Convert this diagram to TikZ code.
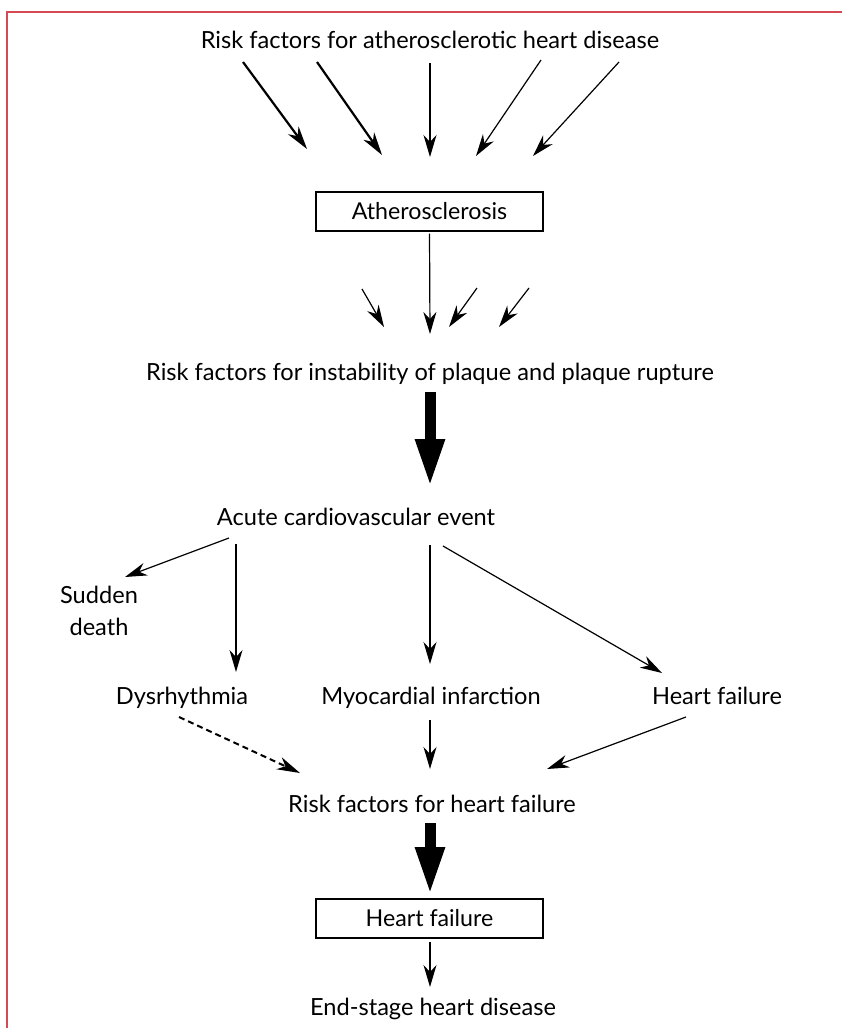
\documentclass[tikz,border=0pt]{standalone}
\usepackage{fontspec}
\setmainfont{Lato}
\usetikzlibrary{arrows.meta}
\definecolor{frame}{RGB}{214,72,84}
\tikzset{
  lbl/.style={font=\fontsize{23.6}{28}\selectfont, inner sep=0pt, anchor=base},
  boxed/.style={draw, line width=1.3pt, minimum width=227pt, minimum height=39pt, inner sep=0pt, font=\fontsize{23.2}{28}\selectfont},
  thin/.style={line width=1.2pt, -{Stealth[length=22pt,width=13pt,inset=7pt]}},
  thick/.style={line width=2.2pt, -{Stealth[length=23pt,width=13pt,inset=7pt]}},
  fat/.style={line width=11pt, -{Triangle[length=48pt,width=27pt]}},
}
\begin{document}
\begin{tikzpicture}[x=1pt,y=-1pt]
\useasboundingbox (0,0) rectangle (842,1028);
\draw[frame, line width=2pt] (7,1028) -- (7,12) -- (842,12);

% texts
\node[lbl] (t1) at (430,48) {Risk factors for atherosclerotic heart disease};
\node[boxed] (ath) at (429.5,211.5) {Atherosclerosis};
\node[lbl] (t2) at (430,380) {Risk factors for instability of plaque and plaque rupture};
\node[lbl] (acute) at (356,525) {Acute cardiovascular event};
\node[font=\fontsize{23.6}{32}\selectfont, inner sep=0pt, align=center] (sd) at (99,611) {Sudden\\death};
\node[lbl] (dys) at (182,704) {Dysrhythmia};
\node[lbl] (mi) at (431,704) {Myocardial infarction};
\node[lbl] (hf) at (717,704) {Heart failure};
\node[lbl] (rfhf) at (432,812) {Risk factors for heart failure};
\node[boxed] (hfb) at (429.5,918.5) {Heart failure};
\node[lbl] (esd) at (433,1015) {End-stage heart disease};

% top arrows
\coordinate (a1s) at (243,62); \coordinate (a1e) at (307,149);
\coordinate (a2s) at (317,62); \coordinate (a2e) at (382,155);
\coordinate (a3s) at (430,63); \coordinate (a3e) at (430,157);
\coordinate (a4s) at (541,60); \coordinate (a4e) at (476,156);
\coordinate (a5s) at (619,62); \coordinate (a5e) at (533,156);
\draw[thick] (a1s) -- (a1e);
\draw[thick] (a2s) -- (a2e);
\draw[thin] (a3s) -- (a3e);
\draw[thin] (a4s) -- (a4e);
\draw[thin] (a5s) -- (a5e);

% second group
\coordinate (b0e) at (430,334);
\draw[thin] (ath.south) ++(0,2) coordinate (b0s) -- (b0e);
\coordinate (b1s) at (362,289); \coordinate (b1e) at (384,327);
\coordinate (b2s) at (477,288); \coordinate (b2e) at (449,327);
\coordinate (b3s) at (529,288); \coordinate (b3e) at (499,327);
\draw[thin] (b1s) -- (b1e);
\draw[thin] (b2s) -- (b2e);
\draw[thin] (b3s) -- (b3e);

% fat arrow 1
\coordinate (f1s) at (430,392); \coordinate (f1e) at (430,487);
\draw[fat] (f1s) -- (f1e);

% from acute event
\coordinate (c1s) at (229,538); \coordinate (c1e) at (125,577);
\coordinate (c2s) at (236,544); \coordinate (c2e) at (236,672);
\coordinate (c3s) at (430,545); \coordinate (c3e) at (430,664);
\coordinate (c4s) at (443,546); \coordinate (c4e) at (662,673);
\draw[thin] (c1s) -- (c1e);
\draw[thin] (c2s) -- (c2e);
\draw[thin] (c3s) -- (c3e);
\draw[thin] (c4s) -- (c4e);

% into risk factors for heart failure
\coordinate (d1s) at (179,717); \coordinate (d1e) at (300,773);
\coordinate (d2s) at (430,720); \coordinate (d2e) at (430,769);
\coordinate (d3s) at (686,717); \coordinate (d3e) at (547,769);
\draw[line width=2pt, dash pattern=on 6pt off 4pt, -{Stealth[length=23pt,width=13pt,inset=7pt]}] (d1s) -- (d1e);
\draw[thin] (d2s) -- (d2e);
\draw[thin] (d3s) -- (d3e);

% fat arrow 2
\coordinate (f2s) at (430,823); \coordinate (f2e) at (430,895);
\draw[fat] (f2s) -- (f2e);

% last
\coordinate (e1s) at (430,942); \coordinate (e1e) at (430,987);
\draw[thin] (e1s) -- (e1e);
\end{tikzpicture}
\end{document}
